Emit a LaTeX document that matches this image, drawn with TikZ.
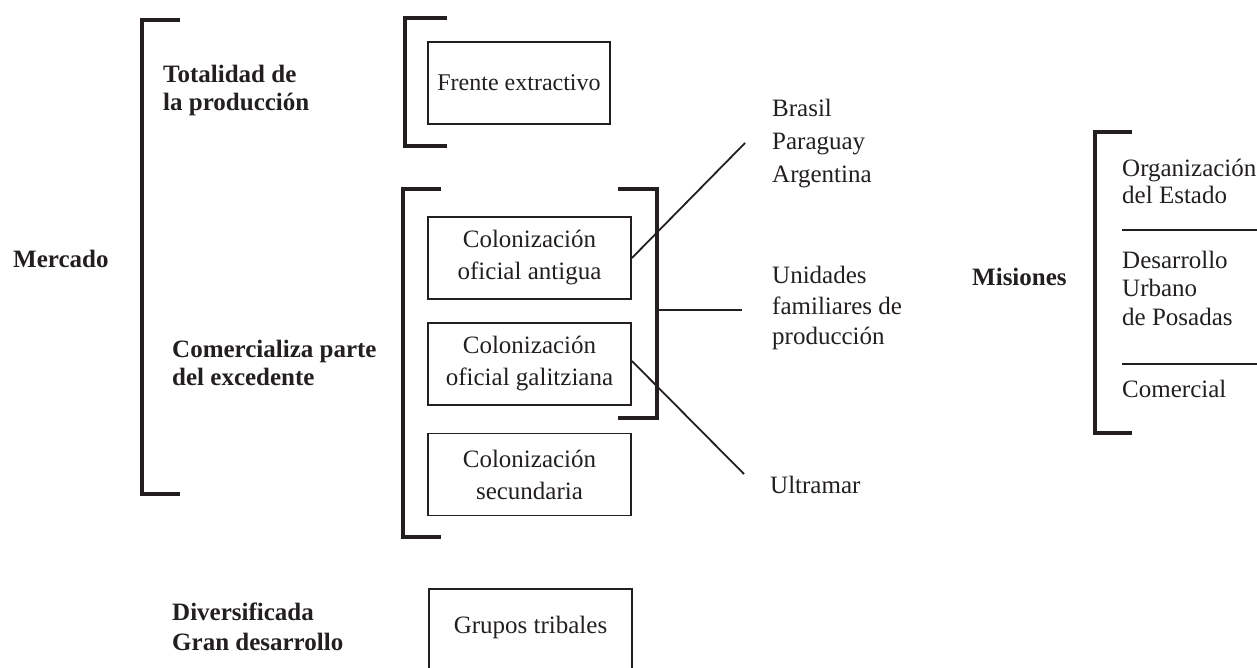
\documentclass[tikz,border=0pt]{standalone}
\usepackage{fontspec}
\setmainfont{Liberation Serif}
\definecolor{ink}{RGB}{35,31,32}
\newcommand{\tlines}[1]{\begin{tabular}[t]{@{}l@{}}#1\end{tabular}}
\tikzset{
  txt/.style={inner sep=0pt, anchor=base west, text=ink},
  boxnode/.style={draw=ink, line width=1.8pt, minimum width=203pt, minimum height=82pt,
    align=center, inner sep=0pt, text=ink, font=\fontsize{25}{32}\selectfont},
  bracket/.style={draw=ink, line width=4.5pt},
  conn/.style={draw=ink, line width=1.8pt},
  sep/.style={draw=ink, line width=2pt}
}
\begin{document}
\begin{tikzpicture}[x=1pt,y=-1pt]
\useasboundingbox (0,0) rectangle (1257,668);

% left labels
\node[txt, font=\bfseries\fontsize{25}{28}\selectfont] (mercado) at (13,267) {Mercado};
\node[txt, font=\bfseries\fontsize{25}{28}\selectfont] (totalidad) at (163,83) {\tlines{Totalidad de\\la producción}};
\node[txt, font=\bfseries\fontsize{25}{28}\selectfont] (comercializa) at (172,357) {\tlines{Comercializa parte\\del excedente}};
\node[txt, font=\bfseries\fontsize{25}{30}\selectfont] (diversificada) at (172,620) {\tlines{Diversificada\\Gran desarrollo}};

% big bracket
\draw[bracket] (180,20) -- (142,20) -- (142,494) -- (180,494);

% frente
\draw[bracket] (447,18) -- (405,18) -- (405,146) -- (447,146);
\node[boxnode, minimum width=182pt, font=\fontsize{24}{32}\selectfont] (frente) at (519,83) {Frente extractivo};

% colonizacion group
\draw[bracket] (441,189) -- (403,189) -- (403,537) -- (441,537);
\draw[bracket] (618,189) -- (657,189) -- (657,418) -- (618,418);
\node[boxnode] (antigua) at (529.5,258) {Colonización\\oficial antigua};
\node[boxnode] (galitziana) at (529.5,364) {Colonización\\oficial galitziana};
\node[boxnode] (secundaria) at (529.5,474.5) {Colonización\\secundaria};

% grupos tribales (open at bottom)
\node[txt, anchor=base, font=\fontsize{25}{31}\selectfont] (grupos) at (530.5,633) {Grupos tribales};
\draw[conn] (429,670) -- (429,589) -- (632,589) -- (632,670);

% right labels
\node[txt, font=\fontsize{25}{33}\selectfont] (brasil) at (772,117) {\tlines{Brasil\\Paraguay\\Argentina}};
\node[txt, font=\fontsize{25}{31}\selectfont] (unidades) at (772,283) {\tlines{Unidades\\familiares de\\producción}};
\node[txt, font=\fontsize{25}{31}\selectfont] (ultramar) at (770,493) {Ultramar};

% connectors
\coordinate (brasilend) at (745,143);
\coordinate (bracketmid) at (659,310);
\coordinate (unidadesend) at (742,310);
\coordinate (ultramarend) at (744,474);
\draw[conn] (antigua.east) -- (brasilend);
\draw[conn] (bracketmid) -- (unidadesend);
\draw[conn] ([yshift=3pt]galitziana.east) -- (ultramarend);

% Misiones
\node[txt, font=\bfseries\fontsize{25}{28}\selectfont] (misiones) at (972,285) {Misiones};
\draw[bracket] (1132,132) -- (1095,132) -- (1095,433) -- (1132,433);
\node[txt, font=\fontsize{25}{27}\selectfont] (organizacion) at (1122,177) {\tlines{Organización\\del Estado}};
\node[txt, font=\fontsize{25}{28.5}\selectfont] (desarrollo) at (1122,268) {\tlines{Desarrollo\\Urbano\\de Posadas}};
\node[txt, font=\fontsize{25}{28}\selectfont] (comercial) at (1122,397) {Comercial};
\coordinate (sepa1) at (1122,230);
\coordinate (sepa2) at (1258,230);
\coordinate (sepb1) at (1122,364);
\coordinate (sepb2) at (1258,364);
\draw[sep] (sepa1) -- (sepa2);
\draw[sep] (sepb1) -- (sepb2);
\end{tikzpicture}
\end{document}
